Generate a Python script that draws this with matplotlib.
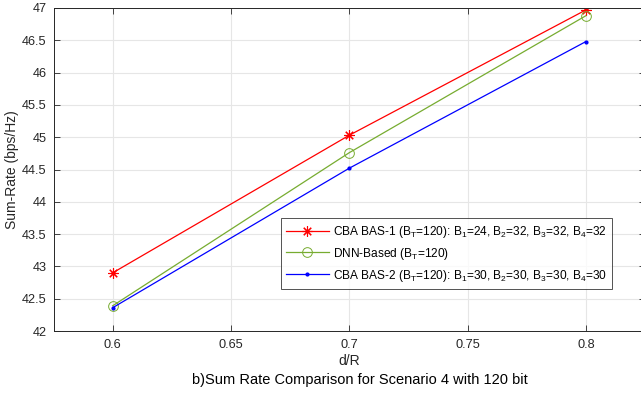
import matplotlib
matplotlib.use("Agg")
import matplotlib.pyplot as plt

plt.rcParams['font.family'] = ['Liberation Sans', 'DejaVu Sans']
plt.rcParams['mathtext.default'] = 'regular'

# Data
d_over_R = [0.6, 0.7, 0.8]
cba_bas1 = [42.90, 45.03, 46.97]
dnn_based = [42.39, 44.76, 46.88]
cba_bas2 = [42.36, 44.52, 46.48]

labels = [
    "CBA BAS-1 (B$_T$=120): B$_1$=24, B$_2$=32, B$_3$=32, B$_4$=32",
    "DNN-Based (B$_T$=120)",
    "CBA BAS-2 (B$_T$=120): B$_1$=30, B$_2$=30, B$_3$=30, B$_4$=30",
]
xticks = [0.6, 0.65, 0.7, 0.75, 0.8]
xticklabels = ["0.6", "0.65", "0.7", "0.75", "0.8"]
yticks = [42, 42.5, 43, 43.5, 44, 44.5, 45, 45.5, 46, 46.5, 47]
yticklabels = ["42", "42.5", "43", "43.5", "44", "44.5", "45", "45.5", "46", "46.5", "47"]

W, H = 641, 397
fig = plt.figure(figsize=(W / 100, H / 100), dpi=100)
left, right, top, bottom = 53.5, 645, 8, 331
ax = fig.add_axes([left / W, 1 - bottom / H, (right - left) / W, (bottom - top) / H])

fs_tick = 9.2
fs_lab = 10
fs_leg = 8.6
ax.plot(d_over_R, cba_bas1, color=(1, 0, 0), lw=0.9, marker=(8, 2, 0), ms=7.5, mew=0.8, label=labels[0])
ax.plot(d_over_R, dnn_based, color=(0.466, 0.674, 0.188), lw=0.9, marker='o', ms=7,
        mfc='none', mew=0.7, label=labels[1])
ax.plot(d_over_R, cba_bas2, color=(0, 0, 1), lw=0.9, marker='.', ms=4, label=labels[2])

ax.set_xlim(0.575, 0.825)
ax.set_ylim(42, 47)
ax.set_xticks(xticks)
ax.set_xticklabels(xticklabels)
ax.set_yticks(yticks)
ax.set_yticklabels(yticklabels)
ax.grid(True, color='#e6e6e6', lw=0.8)
ax.set_axisbelow(True)
ax.tick_params(direction='in', top=True, right=True, length=4, width=0.6,
               colors='#262626', labelsize=fs_tick, pad=6)
ax.tick_params(axis='y', pad=5)
for s in ax.spines.values():
    s.set_color('#262626')
    s.set_linewidth(0.7)

ax.set_xlabel("d/R", fontsize=fs_lab, color='#262626', labelpad=2)
ax.set_ylabel("Sum-Rate (bps/Hz)", fontsize=fs_lab, color='#262626')
ax.yaxis.set_label_coords((18.5 - left) / (right - left), 0.5)

leg = ax.legend(loc='lower right', bbox_to_anchor=((612 - left) / (right - left), (bottom - 289) / (bottom - top)),
                borderaxespad=0, fontsize=fs_leg, frameon=True, fancybox=False, edgecolor='#262626',
                handlelength=3.6, handletextpad=0.3, labelspacing=0.5, borderpad=0.45)
leg.get_frame().set_linewidth(0.7)

fig.text(360 / W, 1 - 380 / H, "b)Sum Rate Comparison for Scenario 4 with 120 bit",
         ha='center', va='center', fontsize=10.5, color='#000000')

fig.savefig("out.png", dpi=100)
